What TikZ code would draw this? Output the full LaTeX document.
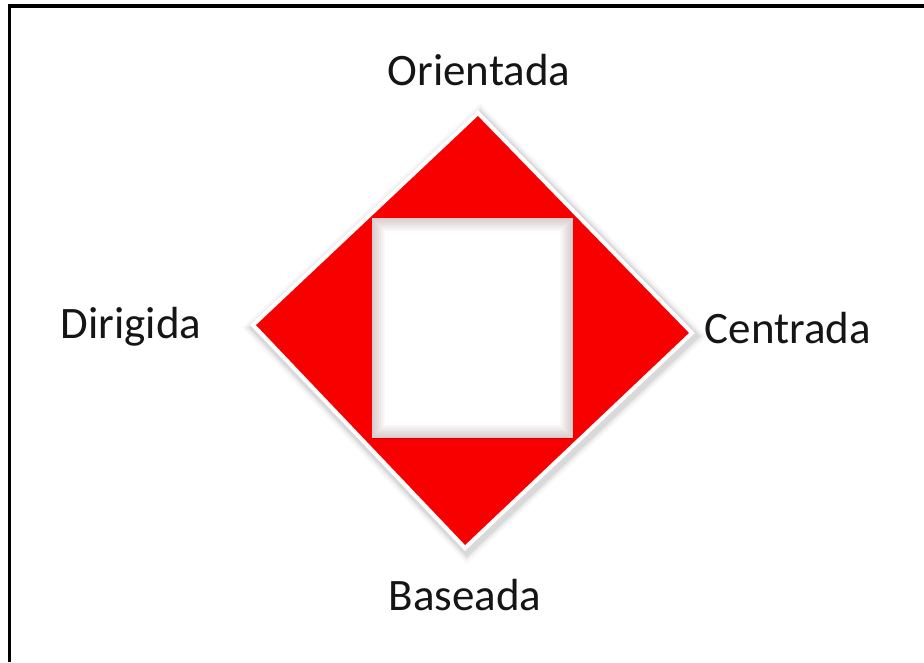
\documentclass[tikz,border=0pt]{standalone}
\usepackage{fontspec}
\setmainfont{Carlito}
\usetikzlibrary{positioning}
\definecolor{DiamondRed}{HTML}{F80000}
\definecolor{Ink}{HTML}{151515}

\begin{document}
\begin{tikzpicture}[x=1pt,y=-1pt,
    cornerlabel/.style={text=Ink,font=\fontsize{45}{54}\selectfont,inner sep=0pt,anchor=base}]
    \useasboundingbox (0,0) rectangle (924,662);
    % frame, cut at right and bottom
    \draw[line width=3.5pt] (9.5,662) -- (9.5,6) -- (924,6);
    \coordinate (top) at (478,113);
    \coordinate (right) at (692,333);
    \coordinate (bottom) at (465,548);
    \coordinate (left) at (253,325);
    % soft shadow round the diamond
    \foreach \w/\o in {18/0.03,13/0.05,9/0.07}{
      \draw[black,opacity=\o,line width=\w pt,line join=miter] ([shift={(2,3)}]top) -- ([shift={(2,3)}]right) -- ([shift={(2,3)}]bottom) -- ([shift={(2,3)}]left) -- cycle;
    }
    \filldraw[fill=DiamondRed,draw=white,line width=4pt,line join=miter] (top) -- (right) -- (bottom) -- (left) -- cycle;
    % inner white square with inset shadow
    \begin{scope}
      \clip (372,218) rectangle (573,438);
      \fill[white] (372,218) rectangle (573,438);
      \foreach \w in {26,22,...,2}{
        \draw[black!70!red,opacity=0.03,line width=\w pt] (372,218) rectangle (573,438);
      }
    \end{scope}
    \node[cornerlabel] (orient) at (479,85) {Orientada};
    \node[cornerlabel] (dirig) at (131,338) {Dirigida};
    \node[cornerlabel] (centr) at (788,343) {Centrada};
    \node[cornerlabel] (basea) at (465,610) {Baseada};
\end{tikzpicture}
\end{document}
